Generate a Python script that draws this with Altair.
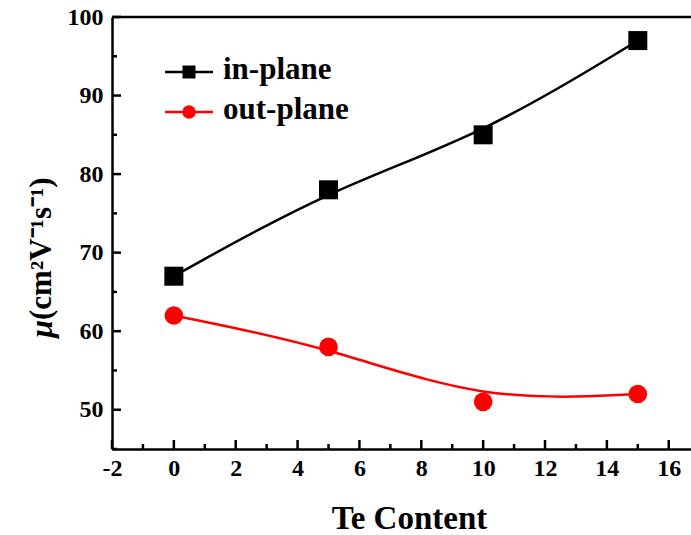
import altair as alt
import pandas as pd

# Hall mobility vs Te content
te_content = [0, 5, 10, 15]
mobility_in_plane = [67, 78, 85, 97]
mobility_out_plane = [62, 58, 51, 52]

series_names = ["in-plane", "out-plane"]
series_colors = ["#000000", "#FF0000"]
series_shapes = ["square", "circle"]
series_sizes = [361, 346]

x_major_ticks = [-2, 0, 2, 4, 6, 8, 10, 12, 14, 16]
x_minor_ticks = [-1, 1, 3, 5, 7, 9, 11, 13, 15]
y_major_ticks = [50, 60, 70, 80, 90, 100]
y_minor_ticks = [45, 55, 65, 75, 85, 95]

y_title_symbol = "μ"
y_title_units = "(cm²V⁻¹s⁻¹)"

W, H = 579, 432
FONT = "Liberation Serif"
AXIS_W = 2.5

rows = []
for name, values in zip(series_names, [mobility_in_plane, mobility_out_plane]):
    for t, m in zip(te_content, values):
        rows.append({"te": t, "mu": m, "series": name})
df = pd.DataFrame(rows)

xs = alt.Scale(domain=[-2, 16.72], nice=False, zero=False)
ys = alt.Scale(domain=[45, 100], nice=False, zero=False)

x_axis = alt.Axis(
    title="Te Content", values=x_major_ticks, labelExpr="toString(datum.value)",
    ticks=False, grid=False,
    domainColor="black", domainWidth=AXIS_W, labelFont=FONT, labelFontSize=24,
    labelFontWeight="bold", labelColor="black", labelPadding=7, labelFlush=False,
    titleFont=FONT, titleFontSize=33, titleFontWeight="bold", titleColor="black",
    titleX=297, titleY=69, titleBaseline="middle",
)
y_axis = alt.Axis(
    title=None, values=y_major_ticks, labelExpr="toString(datum.value)",
    ticks=False, grid=False,
    domainColor="black", domainWidth=AXIS_W, labelFont=FONT, labelFontSize=24,
    labelFontWeight="bold", labelColor="black", labelPadding=9, labelFlush=False,
)

color_enc = alt.Color("series:N", scale=alt.Scale(domain=series_names, range=series_colors), legend=None)

base = alt.Chart(df).encode(
    x=alt.X("te:Q", scale=xs, axis=x_axis),
    y=alt.Y("mu:Q", scale=ys, axis=y_axis),
    color=color_enc,
)

curves = base.mark_line(interpolate="basis", strokeWidth=2.5)
markers = base.mark_point(filled=True, opacity=1).encode(
    shape=alt.Shape("series:N", scale=alt.Scale(domain=series_names, range=series_shapes), legend=None),
    size=alt.Size("series:N", scale=alt.Scale(domain=series_names, range=series_sizes), legend=None),
)

# inward tick marks
def x_ticks(values, length):
    return alt.Chart(pd.DataFrame({"te": values})).mark_rule(color="black", strokeWidth=AXIS_W).encode(
        x=alt.X("te:Q", scale=xs, axis=x_axis), y=alt.value(H), y2=alt.value(H - length)
    )

def y_ticks(values, length):
    return alt.Chart(pd.DataFrame({"mu": values})).mark_rule(color="black", strokeWidth=AXIS_W).encode(
        y=alt.Y("mu:Q", scale=ys, axis=y_axis), x=alt.value(0), x2=alt.value(length)
    )

one = pd.DataFrame({"k": [0]})
top_border = alt.Chart(one).mark_rule(color="black", strokeWidth=AXIS_W).encode(
    x=alt.value(0), x2=alt.value(W), y=alt.value(0)
)

# rotated y-axis title: italic symbol followed by the units
title_anchor_y = 303
y_title = alt.layer(
    alt.Chart(one).mark_text(text=y_title_symbol, angle=270, align="right", baseline="middle",
                             font=FONT, fontSize=32, fontWeight="bold", fontStyle="italic",
                             color="black").encode(x=alt.value(-70), y=alt.value(title_anchor_y)),
    alt.Chart(one).mark_text(text=y_title_units, angle=270, align="left", baseline="middle",
                             font=FONT, fontSize=31, fontWeight="bold",
                             color="black").encode(x=alt.value(-70), y=alt.value(title_anchor_y)),
)

# legend: line segment with marker and bold label
legend_layers = []
legend_rows = [55, 95]
legend_marker_sizes = [169, 180]
for name, col, shp, msize, ly in zip(series_names, series_colors, series_shapes, legend_marker_sizes, legend_rows):
    legend_layers.append(
        alt.Chart(one).mark_rule(color=col, strokeWidth=2.5).encode(
            x=alt.value(53), x2=alt.value(101), y=alt.value(ly))
    )
    legend_layers.append(
        alt.Chart(one).mark_point(shape=shp, filled=True, opacity=1, color=col, size=msize).encode(
            x=alt.value(77), y=alt.value(ly))
    )
    legend_layers.append(
        alt.Chart(one).mark_text(text=name, align="left", baseline="middle", font=FONT,
                                 fontSize=31, fontWeight="bold", color="black").encode(
            x=alt.value(111), y=alt.value(ly - 2))
    )

chart = alt.layer(
    x_ticks(x_major_ticks, 9), x_ticks(x_minor_ticks, 5),
    y_ticks(y_major_ticks, 9), y_ticks(y_minor_ticks, 5),
    top_border, curves, markers, y_title, *legend_layers,
).properties(
    width=W, height=H,
    autosize=alt.AutoSizeParams(type="none"),
    padding={"left": 112, "top": 17, "right": 0, "bottom": 86},
).configure_view(stroke=None).configure(background="white")

chart.save("out.html", embed_options={"renderer": "svg", "actions": False})
